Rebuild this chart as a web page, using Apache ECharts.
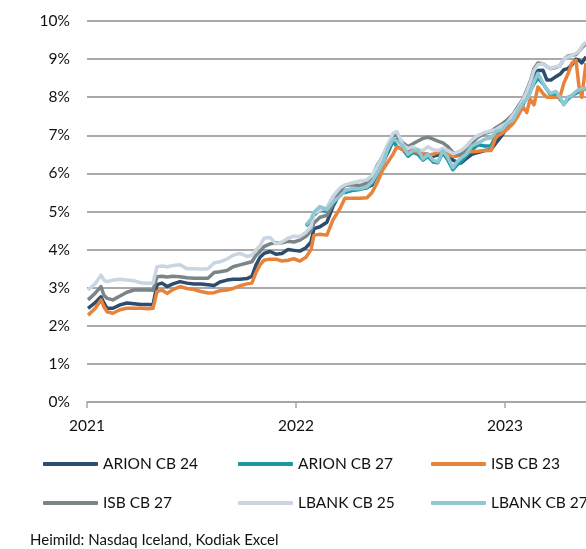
<!DOCTYPE html>
<html>
<head>
<meta charset="utf-8">
<script src="https://cdn.jsdelivr.net/npm/echarts@6/dist/echarts.min.js"></script>
<style>
  html, body { margin: 0; padding: 0; background: #fff; }
  #chart { width: 586px; height: 549px; }
</style>
</head>
<body>
<div id="chart"></div>
<script>
// dates as decimal years, values in %
var dates = [
  2021.005, 2021.038, 2021.067, 2021.081, 2021.096, 2021.124, 2021.158, 2021.191, 2021.225, 2021.258,
  2021.292, 2021.316, 2021.335, 2021.359, 2021.383, 2021.411, 2021.445, 2021.478, 2021.512, 2021.545,
  2021.579, 2021.608, 2021.636, 2021.670, 2021.699, 2021.732, 2021.766, 2021.789, 2021.809, 2021.828,
  2021.847, 2021.876, 2021.904, 2021.933, 2021.962, 2021.990, 2022.019, 2022.048, 2022.072, 2022.086,
  2022.115, 2022.148, 2022.177, 2022.211, 2022.234, 2022.268, 2022.306, 2022.340, 2022.364, 2022.388,
  2022.416, 2022.440, 2022.464, 2022.483, 2022.512, 2022.536, 2022.560, 2022.584, 2022.608, 2022.632,
  2022.656, 2022.679, 2022.703, 2022.727, 2022.751, 2022.770, 2022.789, 2022.813, 2022.842, 2022.871,
  2022.904, 2022.933, 2022.957, 2022.986, 2023.010, 2023.038, 2023.062, 2023.086, 2023.105, 2023.120,
  2023.139, 2023.158, 2023.182, 2023.201, 2023.220, 2023.244, 2023.263, 2023.282, 2023.301, 2023.321,
  2023.340, 2023.354, 2023.368, 2023.388
];

var arionCb24 = [
  2.46, 2.6, 2.76, 2.6, 2.46, 2.46, 2.55, 2.6, 2.58, 2.56,
  2.56, 2.55, 3.08, 3.12, 3.03, 3.1, 3.16, 3.12, 3.1, 3.1,
  3.08, 3.06, 3.15, 3.2, 3.22, 3.22, 3.24, 3.3, 3.6, 3.8,
  3.9, 3.95, 3.88, 3.9, 4.0, 3.98, 3.96, 4.05, 4.2, 4.55,
  4.6, 4.72, 5.13, 5.48, 5.55, 5.57, 5.6, 5.63, 5.7, 5.97,
  6.3, 6.55, 6.85, 6.88, 6.75, 6.6, 6.62, 6.55, 6.5, 6.5,
  6.45, 6.48, 6.5, 6.48, 6.35, 6.3, 6.27, 6.38, 6.5, 6.55,
  6.6, 6.62, 6.8, 7.0, 7.2, 7.4, 7.6, 7.83, 8.1, 8.3,
  8.54, 8.7, 8.71, 8.45, 8.45, 8.54, 8.6, 8.72, 8.75, 8.85,
  9.0, 8.97, 8.9, 9.06
];

var isbCb23 = [
  2.28, 2.45, 2.68, 2.5, 2.37, 2.33, 2.42, 2.46, 2.46, 2.46,
  2.45, 2.46, 2.9, 2.94, 2.85, 2.95, 3.03, 2.98, 2.95, 2.9,
  2.86, 2.87, 2.92, 2.94, 2.98, 3.05, 3.1, 3.12, 3.4, 3.6,
  3.72, 3.75, 3.75, 3.7, 3.72, 3.76, 3.7, 3.8, 4.0, 4.38,
  4.4, 4.38, 4.78, 5.08, 5.35, 5.35, 5.35, 5.36, 5.5, 5.75,
  6.1, 6.3, 6.5, 6.7, 6.62, 6.55, 6.6, 6.55, 6.52, 6.48,
  6.5, 6.55, 6.6, 6.5, 6.45, 6.45, 6.5, 6.57, 6.57, 6.58,
  6.6, 6.6, 6.96, 7.05, 7.15, 7.3, 7.5, 7.75, 7.6, 7.95,
  7.8, 8.27, 8.1, 8.0, 8.0, 8.0, 8.0, 8.37, 8.6, 8.9,
  8.97, 8.3, 8.0, 8.9
];

var isbCb27 = [
  2.68, 2.85, 3.03, 2.8, 2.72, 2.68, 2.78, 2.88, 2.94, 2.94,
  2.94, 2.93, 3.29, 3.3, 3.28, 3.3, 3.29, 3.26, 3.25, 3.25,
  3.25, 3.4, 3.42, 3.45, 3.55, 3.6, 3.65, 3.68, 3.85, 3.95,
  4.08, 4.15, 4.18, 4.18, 4.22, 4.2, 4.25, 4.35, 4.5, 4.7,
  4.85, 4.9, 5.2, 5.55, 5.68, 5.7, 5.68, 5.75, 5.9, 6.2,
  6.45, 6.75, 6.98, 7.0, 6.8, 6.7, 6.78, 6.85, 6.92, 6.95,
  6.9, 6.85, 6.8, 6.7, 6.55, 6.5, 6.48, 6.6, 6.8, 6.95,
  7.05, 7.1, 7.2, 7.3, 7.4, 7.55, 7.75, 7.95, 8.2, 8.4,
  8.75, 8.9, 8.88, 8.8, 8.75, 8.78, 8.82, 9.0, 9.08, 9.1,
  9.12, 9.2, 9.3, 9.4
];

var lbankCb25 = [
  2.94, 3.1, 3.33, 3.2, 3.16, 3.2, 3.22, 3.2, 3.18, 3.13,
  3.12, 3.12, 3.55, 3.57, 3.55, 3.58, 3.6, 3.5, 3.5, 3.49,
  3.5, 3.65, 3.68, 3.75, 3.85, 3.9, 3.82, 3.85, 4.0, 4.1,
  4.3, 4.32, 4.15, 4.2, 4.3, 4.35, 4.34, 4.45, 4.6, 4.95,
  5.04, 5.1, 5.4, 5.62, 5.7, 5.75, 5.8, 5.83, 5.95, 6.17,
  6.45, 6.75, 7.05, 7.1, 6.75, 6.65, 6.7, 6.62, 6.6, 6.7,
  6.62, 6.6, 6.66, 6.6, 6.52, 6.55, 6.6, 6.7, 6.88, 7.0,
  7.08, 7.12, 7.15, 7.25, 7.32, 7.53, 7.7, 7.93, 8.15, 8.37,
  8.7, 8.85, 8.88, 8.8, 8.76, 8.8, 8.82, 9.0, 9.06, 9.1,
  9.15, 9.2, 9.33, 9.45
];

// the 27 bonds start in early 2022
var arionCb27 = [
  null, null, null, null, null, null, null, null, null, null,
  null, null, null, null, null, null, null, null, null, null,
  null, null, null, null, null, null, null, null, null, null,
  null, null, null, null, null, null, null, 4.62, 4.75, 4.9,
  5.05, 5.0, 5.2, 5.45, 5.5, 5.55, 5.58, 5.62, 5.75, 5.95,
  6.25, 6.6, 6.85, 6.7, 6.62, 6.45, 6.55, 6.5, 6.35, 6.45,
  6.3, 6.28, 6.55, 6.35, 6.1, 6.22, 6.3, 6.45, 6.62, 6.75,
  6.72, 6.72, 7.0, 7.1, 7.25, 7.35, 7.6, 7.8, 8.0, 8.15,
  8.35, 8.5, 8.35, 8.2, 8.05, 8.1, 7.95, 7.82, 7.95, 8.05,
  8.1, 8.15, 8.2, 8.22
];

var lbankCb27 = [
  null, null, null, null, null, null, null, null, null, null,
  null, null, null, null, null, null, null, null, null, null,
  null, null, null, null, null, null, null, null, null, null,
  null, null, null, null, null, null, null, 4.65, 4.8, 4.98,
  5.13, 5.05, 5.25, 5.4, 5.55, 5.6, 5.6, 5.65, 5.78, 6.0,
  6.27, 6.65, 6.9, 6.85, 6.72, 6.5, 6.6, 6.62, 6.38, 6.5,
  6.35, 6.3, 6.6, 6.42, 6.15, 6.3, 6.4, 6.5, 6.72, 6.8,
  6.9, 6.93, 7.1, 7.15, 7.3, 7.4, 7.65, 7.85, 7.95, 8.1,
  8.4, 8.63, 8.37, 8.2, 8.1, 8.15, 8.0, 7.8, 8.0, 8.05,
  8.15, 8.2, 8.22, 8.25
];

var seriesNames = ['ARION CB 24', 'ARION CB 27', 'ISB CB 23', 'ISB CB 27', 'LBANK CB 25', 'LBANK CB 27'];
var seriesValues = [arionCb24, arionCb27, isbCb23, isbCb27, lbankCb25, lbankCb27];
var colors = ['#2c4d6e', '#1a97a6', '#e8833c', '#7b8487', '#c9d5e1', '#8fc8d3'];

var font = 'Lato';

function pairs(vals) {
  return dates.map(function (d, i) { return [d, vals[i]]; });
}

var chart = echarts.init(document.getElementById('chart'));

var legendBase = {
  orient: 'vertical',
  top: 456,
  padding: 0,
  itemWidth: 55,
  itemHeight: 4,
  itemGap: 23,
  icon: 'roundRect',
  textStyle: { fontFamily: font, fontSize: 15.5, color: '#111', lineHeight: 16 }
};

chart.setOption({
  animation: false,
  color: colors,
  textStyle: { fontFamily: font },
  grid: { left: 87, right: 0, top: 21, bottom: 147 },
  legend: [
    Object.assign({ left: 43, data: ['ARION CB 24', 'ISB CB 27'] }, legendBase),
    Object.assign({ left: 238, data: ['ARION CB 27', 'LBANK CB 25'] }, legendBase),
    Object.assign({ left: 431, data: ['ISB CB 23', 'LBANK CB 27'] }, legendBase)
  ],
  graphic: [{
    type: 'text',
    left: 30,
    top: 533,
    style: { text: 'Heimild: Nasdaq Iceland, Kodiak Excel', fontFamily: font, fontSize: 15, fill: '#111' }
  }],
  xAxis: {
    type: 'value',
    min: 2021,
    max: 2023.388,
    interval: 1,
    splitLine: { show: false },
    axisLine: { lineStyle: { color: '#a6a6a6', width: 1.5 } },
    axisTick: { show: true, length: 6, lineStyle: { color: '#a6a6a6', width: 1.5 } },
    axisLabel: {
      margin: 16,
      fontSize: 15.5,
      color: '#111',
      showMaxLabel: false,
      formatter: function (v) { return Number.isInteger(v) ? String(v) : ''; }
    }
  },
  yAxis: {
    type: 'value',
    min: 0,
    max: 10,
    interval: 1,
    axisLine: { show: false },
    axisTick: { show: false },
    splitLine: { lineStyle: { color: '#8c8c8c', width: 1.5 } },
    axisLabel: { margin: 17, fontSize: 15.5, color: '#111', formatter: '{value}%' }
  },
  series: seriesNames.map(function (name, i) {
    return {
      name: name,
      type: 'line',
      data: pairs(seriesValues[i]),
      showSymbol: false,
      symbol: 'none',
      connectNulls: false,
      lineStyle: { width: 3.5, color: colors[i], join: 'round' },
      itemStyle: { color: colors[i] }
    };
  })
});
</script>
</body>
</html>
